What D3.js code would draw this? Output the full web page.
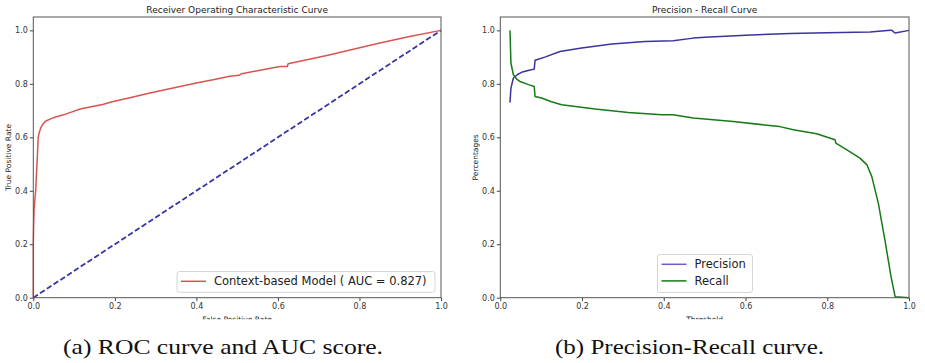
<!DOCTYPE html>
<html>
<head>
<meta charset="utf-8">
<script src="https://cdn.jsdelivr.net/npm/d3@7"></script>
<style>
  html, body { margin: 0; padding: 0; background: #fff; }
  svg { display: block; }
  .tick text { font-family: "DejaVu Sans", sans-serif; font-size: 8px; fill: #333; }
  .tick line { stroke: #444; }
  .domain { display: none; }
</style>
</head>
<body>
<svg id="chart" width="925" height="363"></svg>
<script>
// ROC curve: false positive rate vs true positive rate
const rocFpr = [0, 0, 0.001, 0.002, 0.004, 0.006, 0.008, 0.010, 0.012, 0.015, 0.018, 0.023, 0.029, 0.035, 0.041,
  0.055, 0.074, 0.095, 0.115, 0.139, 0.17, 0.196, 0.237, 0.278, 0.32, 0.36, 0.40, 0.441, 0.482, 0.505, 0.511,
  0.55, 0.605, 0.623, 0.625, 0.68, 0.728, 0.79, 0.85, 0.92, 1.0];
const rocTpr = [0, 0.2, 0.28, 0.33, 0.37, 0.403, 0.47, 0.528, 0.6, 0.62, 0.634, 0.648, 0.659, 0.664, 0.668,
  0.676, 0.684, 0.695, 0.706, 0.713, 0.723, 0.734, 0.748, 0.763, 0.777, 0.790, 0.803, 0.815, 0.828, 0.832, 0.838,
  0.849, 0.865, 0.865, 0.875, 0.893, 0.909, 0.931, 0.953, 0.976, 1.0];
const chanceLine = [0, 1];
const aucScore = 0.827;

// Precision and recall as functions of the decision threshold
const precThreshold = [0.0237, 0.026, 0.032, 0.042, 0.052, 0.068, 0.083, 0.085, 0.109, 0.146, 0.199, 0.273, 0.354,
  0.423, 0.472, 0.501, 0.60, 0.709, 0.80, 0.905, 0.954, 0.958, 0.966, 1.0];
const precision = [0.730, 0.784, 0.822, 0.835, 0.843, 0.850, 0.855, 0.888, 0.900, 0.921, 0.934, 0.949, 0.958,
  0.961, 0.971, 0.974, 0.982, 0.988, 0.991, 0.994, 1.0, 1.0, 0.990, 1.0];
const recThreshold = [0.0237, 0.025, 0.026, 0.032, 0.040, 0.048, 0.069, 0.083, 0.085, 0.101, 0.125, 0.150, 0.232,
  0.313, 0.395, 0.423, 0.472, 0.570, 0.684, 0.717, 0.774, 0.819, 0.821, 0.848, 0.88, 0.897, 0.909, 0.925, 0.941,
  0.956, 0.966, 1.0];
const recall = [1.0, 0.93, 0.878, 0.834, 0.818, 0.809, 0.797, 0.790, 0.753, 0.747, 0.733, 0.722, 0.706,
  0.693, 0.684, 0.684, 0.672, 0.659, 0.640, 0.628, 0.613, 0.591, 0.578, 0.553, 0.522, 0.497, 0.453, 0.353, 0.216,
  0.079, 0.004, 0.0];

const axisTicks = [0, 0.2, 0.4, 0.6, 0.8, 1.0];

const svg = d3.select("#chart");
const font = "DejaVu Sans, sans-serif";

function panel(opts) {
  const x = d3.scaleLinear().domain([0, 1]).range([opts.left, opts.right]);
  const y = d3.scaleLinear().domain([0, 1.05]).range([297.7, 17]);
  const g = svg.append("g");

  g.append("g").attr("transform", `translate(0,${y(0)})`)
    .call(d3.axisBottom(x).tickValues(axisTicks).tickFormat(d3.format(".1f")).tickSize(3.5).tickPadding(2));
  g.append("g").attr("transform", `translate(${x(0)},0)`)
    .call(d3.axisLeft(y).tickValues(axisTicks).tickFormat(d3.format(".1f")).tickSize(3.5).tickPadding(2));

  g.append("text").attr("x", (x(0) + x(1)) / 2).attr("y", 13)
    .attr("text-anchor", "middle").attr("font-family", font).attr("font-size", 9).attr("fill", "#222")
    .text(opts.title);

  // x label sits right at the bottom edge of the figure and is partly cut off
  const clipId = "clip" + opts.id;
  svg.append("clipPath").attr("id", clipId).append("rect")
    .attr("x", 0).attr("y", 0).attr("width", 925).attr("height", 319.3);
  g.append("text").attr("clip-path", `url(#${clipId})`)
    .attr("x", (x(0) + x(1)) / 2).attr("y", 322)
    .attr("text-anchor", "middle").attr("font-family", font).attr("font-size", 7.5).attr("fill", "#222")
    .text(opts.xLabel);
  g.append("text")
    .attr("transform", `translate(${opts.yLabelX},${(y(0) + y(1.05)) / 2}) rotate(-90)`)
    .attr("text-anchor", "middle").attr("font-family", font).attr("font-size", 7.5).attr("fill", "#222")
    .text(opts.yLabel);

  return { g, x, y };
}

// ---- ROC panel ----
const roc = panel({ id: "a", left: 33.3, right: 441, title: "Receiver Operating Characteristic Curve",
  xLabel: "False Positive Rate", yLabel: "True Positive Rate", yLabelX: 10.5 });

const rocLine = d3.line().x(d => roc.x(d[0])).y(d => roc.y(d[1]));
roc.g.append("path").datum(d3.zip(chanceLine, chanceLine)).attr("d", rocLine)
  .attr("fill", "none").attr("stroke", "#3535a5").attr("stroke-width", 1.8).attr("stroke-dasharray", "5.5,2.6");
roc.g.append("path").datum(d3.zip(rocFpr, rocTpr)).attr("d", rocLine)
  .attr("fill", "none").attr("stroke", "#d9544f").attr("stroke-width", 1.5).attr("stroke-linejoin", "round");

// ---- Precision / Recall panel ----
const pr = panel({ id: "b", left: 500.3, right: 909, title: "Precision - Recall Curve",
  xLabel: "Threshold", yLabel: "Percentages", yLabelX: 477.5 });

const prLine = d3.line().x(d => pr.x(d[0])).y(d => pr.y(d[1]));
pr.g.append("path").datum(d3.zip(precThreshold, precision)).attr("d", prLine)
  .attr("fill", "none").attr("stroke", "#3a33a0").attr("stroke-width", 1.5).attr("stroke-linejoin", "round");
pr.g.append("path").datum(d3.zip(recThreshold, recall)).attr("d", prLine)
  .attr("fill", "none").attr("stroke", "#177a17").attr("stroke-width", 1.5).attr("stroke-linejoin", "round");

// frames drawn last so they sit above the curves
[roc, pr].forEach(p => {
  p.g.append("rect").attr("x", p.x(0)).attr("y", p.y(1.05))
    .attr("width", p.x(1) - p.x(0)).attr("height", p.y(0) - p.y(1.05))
    .attr("fill", "none").attr("stroke", "#555").attr("stroke-width", 1);
});

// ---- legends ----
function legend(p, x0, y0, w, h, items) {
  const lg = p.g.append("g");
  lg.append("rect").attr("x", x0).attr("y", y0).attr("width", w).attr("height", h)
    .attr("rx", 2.5).attr("fill", "#fff").attr("fill-opacity", 0.85)
    .attr("stroke", "#d6d6d6").attr("stroke-width", 1);
  items.forEach((it, i) => {
    const cy = y0 + 9.8 + i * 16.6;
    lg.append("line").attr("x1", x0 + 4).attr("x2", x0 + 29).attr("y1", cy).attr("y2", cy)
      .attr("stroke", it.color).attr("stroke-width", 1.5);
    lg.append("text").attr("x", x0 + 37).attr("y", cy + 4).attr("font-family", font)
      .attr("font-size", 11.5).attr("fill", "#222").text(it.label);
  });
}
legend(roc, 177, 271.5, 258, 20.8, [{ color: "#d9544f", label: `Context-based Model ( AUC = ${aucScore})` }]);
legend(pr, 657.5, 254.5, 95, 38, [{ color: "#6a5fc8", label: "Precision" }, { color: "#177a17", label: "Recall" }]);

// ---- sub-figure captions ----
const captions = [
  { text: "(a) ROC curve and AUC score.", cx: 223, w: 320 },
  { text: "(b) Precision-Recall curve.", cx: 689.5, w: 269 }
];
captions.forEach(c => {
  svg.append("text").attr("x", c.cx).attr("y", 354).attr("text-anchor", "middle")
    .attr("font-family", "Liberation Serif, serif").attr("font-size", 21.5).attr("fill", "#111")
    .attr("textLength", c.w).attr("lengthAdjust", "spacingAndGlyphs")
    .text(c.text);
});
</script>
</body>
</html>
